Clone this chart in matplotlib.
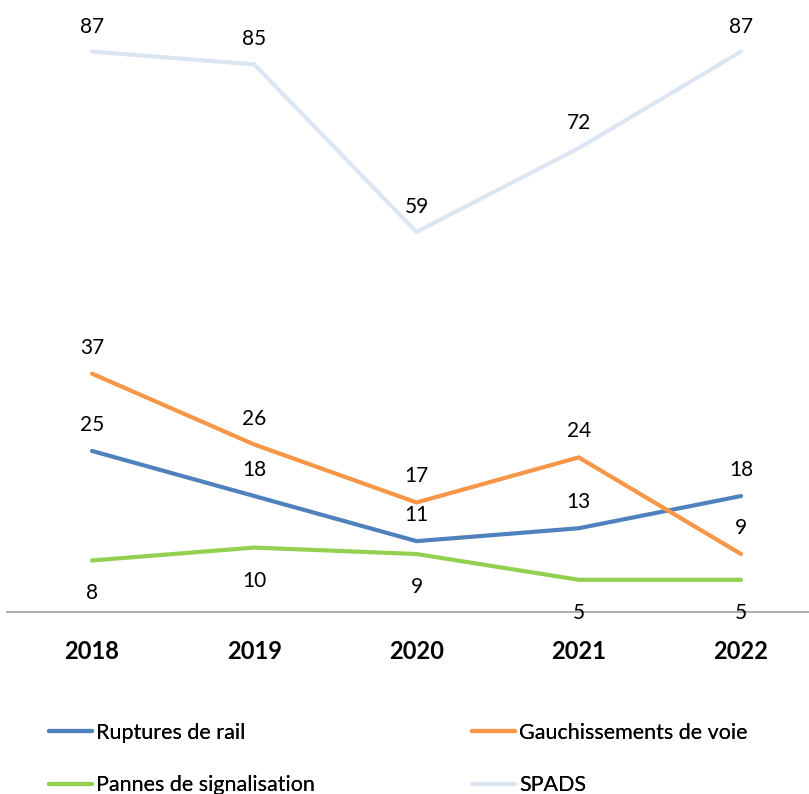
import matplotlib
matplotlib.use("Agg")
from matplotlib import pyplot as plt

years = ['2018', '2019', '2020', '2021', '2022']
ruptures = [25, 18, 11, 13, 18]
gauchissements = [37, 26, 17, 24, 9]
pannes = [8, 10, 9, 5, 5]
spads = [87, 85, 59, 72, 87]

series_names = ['Ruptures de rail', 'Gauchissements de voie',
                'Pannes de signalisation', 'SPADS']
colors = ['#4F81BD', '#F79646', '#92D050', '#DCE6F2']
# labels above the line, except the signalling one which sits below
label_offsets = [26, 26, -33, 25]


def main():
    plt.rcParams['font.family'] = ['Lato', 'DejaVu Sans']

    fig = plt.figure(figsize=(8.09, 7.94), dpi=100)
    ax = fig.add_axes([7 / 809, 1 - 612 / 794, 802 / 809, 612 / 794])

    x = list(range(len(years)))
    data = [ruptures, gauchissements, pannes, spads]
    for values, name, color, off in zip(data, series_names, colors, label_offsets):
        ax.plot(x, values, color=color, lw=3, solid_capstyle='round',
                solid_joinstyle='round', label=name)
        for xi, v in zip(x, values):
            ax.annotate(str(v), (xi, v), xytext=(0, off * 0.72),
                        textcoords='offset points', ha='center', va='center',
                        fontsize=15, color='black')

    ax.set_xlim(-0.524, 4.419)
    ax.set_ylim(0, 95)
    ax.set_xticks(x)
    ax.set_xticklabels(years, fontsize=17, fontweight='bold')
    ax.tick_params(axis='x', length=0, pad=20)
    ax.set_yticks([])
    for side in ['top', 'right', 'left']:
        ax.spines[side].set_visible(False)
    ax.spines['bottom'].set_color('#A6A6A6')
    ax.spines['bottom'].set_linewidth(1.3)

    # two single-column legends so each column starts at a fixed spot
    handles, labels = ax.get_legend_handles_labels()
    leg_style = dict(loc='upper left', frameon=False, fontsize=15.5,
                     handlelength=2.0, handletextpad=0.19, labelspacing=1.49,
                     borderpad=0, borderaxespad=0)
    for cols, left in [([0, 2], 49), ([1, 3], 472)]:
        leg = fig.legend([handles[i] for i in cols], [labels[i] for i in cols],
                         bbox_to_anchor=(left / 809, 1 - 723 / 794), **leg_style)
        for line in leg.get_lines():
            line.set_linewidth(3)
        fig.add_artist(leg)

    fig.savefig('out.png', dpi=100)


if __name__ == "__main__":
    main()
